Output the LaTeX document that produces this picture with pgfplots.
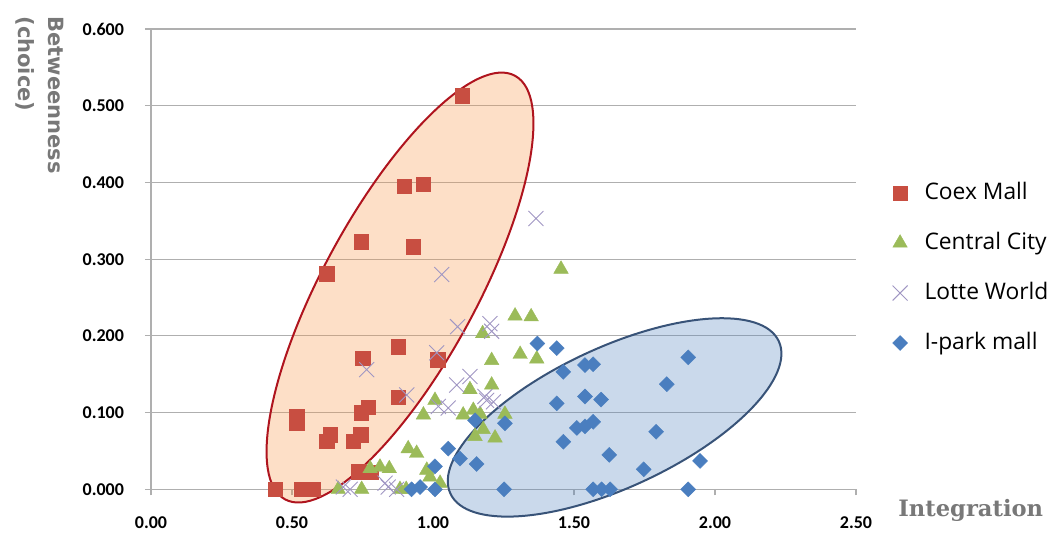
\documentclass[border=0pt]{standalone}
\usepackage{fontspec}
\setmainfont{Carlito}
\newfontfamily\legfont{Open Sans}
\newfontfamily\ylabfont{DejaVu Sans}
\newfontfamily\xlabfont{DejaVu Serif}
\usepackage{pgfplots}
\pgfplotsset{compat=1.18}
\definecolor{coexc}{RGB}{200,78,65}
\definecolor{centc}{RGB}{155,187,89}
\definecolor{lottec}{RGB}{160,150,195}
\definecolor{iparkc}{RGB}{74,126,191}
\definecolor{gridc}{RGB}{175,175,175}
\definecolor{redell}{RGB}{247,150,70}
\definecolor{redline}{RGB}{175,20,30}
\definecolor{blueell}{RGB}{79,129,189}
\definecolor{blueline}{RGB}{56,83,120}
\definecolor{labgray}{RGB}{120,120,120}
\begin{document}
\begin{tikzpicture}
\path[use as bounding box] (-75.5pt,-21.35pt) rectangle (451.5pt,244.65pt);
\begin{axis}[
  at={(0pt,0pt)}, anchor=south west, scale only axis,
  width=352.5pt, height=230.15pt,
  xmin=0, xmax=2.5, ymin=0, ymax=0.6,
  clip=false,
  axis lines=left,
  axis line style={draw=gridc, line width=0.6pt, -},
  xtick={0,0.5,1,1.5,2,2.5},
  ytick={0,0.1,0.2,0.3,0.4,0.5,0.6},
  ymajorgrids,
  grid style={draw=gridc, line width=0.6pt},
  tick align=outside, major tick length=3pt,
  tick style={draw=gridc, line width=0.6pt},
  /pgf/number format/assume math mode=true,
  tick label style={font=\bfseries\fontsize{9}{10}\selectfont},
  xticklabel style={/pgf/number format/fixed, /pgf/number format/fixed zerofill,
    /pgf/number format/precision=2, yshift=-7pt},
  yticklabel style={/pgf/number format/fixed, /pgf/number format/fixed zerofill,
    /pgf/number format/precision=3, xshift=-7pt},
  legend style={at={(1.0428,0.4807)}, anchor=west, draw=none, fill=none,
    font=\legfont\fontsize{11.4}{13}\selectfont, row sep=10pt,
    nodes={inner sep=2pt, text height=8.5pt, text depth=2.5pt},
    /tikz/every odd column/.append style={column sep=6.5pt}},
  legend cell align=left,
]
\addplot[only marks, mark=square*, mark size=3.6pt,
  mark options={draw=coexc, fill=coexc, line width=0.2pt}] table {
x y
1.104 0.513
0.898 0.395
0.966 0.398
0.745 0.323
0.930 0.316
0.623 0.281
0.877 0.186
0.751 0.171
1.017 0.169
0.877 0.120
0.771 0.107
0.745 0.100
0.517 0.095
0.517 0.086
0.635 0.071
0.623 0.063
0.744 0.071
0.717 0.063
0.735 0.023
0.780 0.022
0.440 0.000
0.534 0.000
0.576 0.000
};
\addlegendentry{Coex Mall}
\addplot[only marks, mark=triangle*, mark size=4.2pt,
  mark options={draw=centc, fill=centc, line width=0.2pt}] table {
x y
1.454 0.287
1.291 0.226
1.348 0.225
1.176 0.203
1.309 0.176
1.368 0.170
1.208 0.168
1.131 0.130
1.208 0.136
1.007 0.116
0.966 0.097
1.107 0.097
1.143 0.103
1.167 0.098
1.255 0.098
1.149 0.069
1.178 0.078
1.220 0.067
0.912 0.053
0.942 0.047
0.845 0.027
0.812 0.029
0.777 0.027
0.978 0.025
0.989 0.016
0.664 0.000
0.747 0.000
0.883 0.000
0.905 0.000
1.025 0.008
};
\addlegendentry{Central City}
\addplot[only marks, mark=x, mark size=5.3pt,
  mark options={draw=lottec, line width=0.45pt}] table {
x y
1.365 0.353
1.031 0.280
1.087 0.212
1.202 0.216
1.208 0.206
1.013 0.178
0.765 0.156
1.131 0.147
1.084 0.136
0.907 0.123
1.190 0.116
1.214 0.114
1.019 0.108
1.054 0.106
1.184 0.121
0.682 0.003
0.706 0.000
0.830 0.008
0.841 0.003
0.871 0.000
};
\addlegendentry{Lotte World}
\addplot[only marks, mark=square*, mark size=2.65pt,
  mark options={draw=iparkc, fill=iparkc, line width=0.2pt, rotate=45}] table {
x y
1.370 0.190
1.439 0.184
1.905 0.172
1.539 0.162
1.568 0.163
1.462 0.153
1.829 0.137
1.539 0.121
1.596 0.117
1.439 0.112
1.255 0.086
1.568 0.088
1.510 0.080
1.539 0.082
1.791 0.075
1.462 0.062
1.625 0.045
1.747 0.026
1.947 0.037
1.252 0.000
1.568 0.000
1.598 0.000
1.628 0.000
1.905 0.000
1.149 0.090
1.054 0.053
1.096 0.040
1.155 0.033
1.007 0.030
0.924 0.000
0.954 0.003
1.007 0.000
};
\addlegendentry{I-park mall}
\draw[draw=redline, line width=1pt, fill=redell, fill opacity=0.3, draw opacity=1,
  rotate around={61.5:(axis cs:0.883,0.263)}]
  (axis cs:0.883,0.263) ellipse [x radius=120.5pt, y radius=38.5pt];
\draw[draw=blueline, line width=1pt, fill=blueell, fill opacity=0.3, draw opacity=1,
  rotate around={24.9:(axis cs:1.644,0.0937)}]
  (axis cs:1.644,0.0937) ellipse [x radius=90.5pt, y radius=35pt];
\end{axis}
\node[rotate=-90, anchor=north west, align=left, inner sep=0pt,
  font=\ylabfont\bfseries\fontsize{10.5}{15}\selectfont, text=labgray]
  at (-43.5pt,236.6pt) {Betweenness\\(choice)};
\node[anchor=base west, inner sep=0pt,
  font=\xlabfont\bfseries\fontsize{11.3}{12}\selectfont, text=labgray]
  at (373.5pt,-13.35pt) {Integration};
\end{tikzpicture}
\end{document}
